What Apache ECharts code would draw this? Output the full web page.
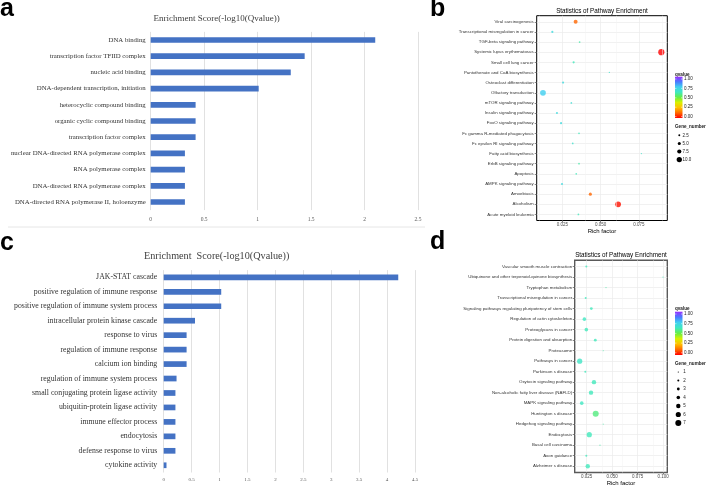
<!DOCTYPE html>
<html><head><meta charset="utf-8">
<script src="https://cdn.jsdelivr.net/npm/echarts@6/dist/echarts.min.js"></script>
<style>html,body{margin:0;padding:0;background:#fff}#c{width:708px;height:487px}</style>
</head><body><div id="c"></div>
<script>
// ---- Panel a ----
const catsA = ['DNA binding','transcription factor TFIID complex','nucleic acid binding','DNA-dependent transcription, initiation','heterocyclic compound binding','organic cyclic compound binding','transcription factor complex','nuclear DNA-directed RNA polymerase complex','RNA polymerase complex','DNA-directed RNA polymerase complex','DNA-directed RNA polymerase II, holoenzyme'];
const valsA = [2.1,1.44,1.31,1.01,0.42,0.42,0.42,0.32,0.32,0.32,0.32];
// ---- Panel c ----
const catsC = ['JAK-STAT cascade','positive regulation of immune response','positive regulation of immune system process','intracellular protein kinase cascade','response to virus','regulation of immune response','calcium ion binding','regulation of immune system process','small conjugating protein ligase activity','ubiquitin-protein ligase activity','immune effector process','endocytosis','defense response to virus','cytokine activity'];
const valsC = [4.2,1.03,1.03,0.56,0.41,0.41,0.41,0.23,0.21,0.21,0.21,0.21,0.21,0.05];
// ---- Panel b ----
const catsB = ['Viral carcinogenesis','Transcriptional misregulation in cancer','TGF-beta signaling pathway','Systemic lupus erythematosus','Small cell lung cancer','Pantothenate and CoA biosynthesis','Osteoclast differentiation','Olfactory transduction','mTOR signaling pathway','Insulin signaling pathway','FoxO signaling pathway','Fc gamma R-mediated phagocytosis','Fc epsilon RI signaling pathway','Fatty acid biosynthesis','ErbB signaling pathway','Apoptosis','AMPK signaling pathway','Amoebiasis','Alcoholism','Acute myeloid leukemia'];
const richB = [0.0337,0.0185,0.0363,0.0896,0.0324,0.0557,0.0255,0.0124,0.0309,0.0215,0.0242,0.0359,0.0318,0.0766,0.0359,0.0341,0.0248,0.0433,0.0614,0.0355];
const genesB = [7,3,2,12,3,1,3,11,2,3,3,2,2,1,2,2,3,5,11,2];
const qB = [0.12,0.7,0.6,0.0,0.62,0.65,0.7,0.75,0.68,0.7,0.7,0.62,0.66,0.65,0.6,0.62,0.7,0.12,0.02,0.62];
// ---- Panel d ----
const catsD = ['Vascular smooth muscle contraction','Ubiquinone and other terpenoid-quinone biosynthesis','Tryptophan metabolism','Transcriptional misregulation in cancer','Signaling pathways regulating pluripotency of stem cells','Regulation of actin cytoskeleton','Proteoglycans in cancer','Protein digestion and absorption','Proteasome','Pathways in cancer','Parkinson s disease','Oxytocin signaling pathway','Non-alcoholic fatty liver disease (NAFLD)','MAPK signaling pathway','Huntington s disease','Hedgehog signaling pathway','Endocytosis','Basal cell carcinoma','Axon guidance','Alzheimer s disease'];
const richD = [0.0246,0.0998,0.0439,0.0240,0.0295,0.0227,0.0246,0.0334,0.0410,0.0181,0.0236,0.0321,0.0292,0.0201,0.0338,0.0410,0.0275,0.0380,0.0246,0.0260];
const genesD = [2,1,1,2,3,4,4,3,1,6,2,5,5,4,7,1,6,1,2,5];
const qD = [0.62,0.62,0.6,0.62,0.62,0.63,0.62,0.62,0.6,0.64,0.62,0.62,0.62,0.63,0.56,0.6,0.62,0.6,0.62,0.62];
// ---- ticks / legends ----
const ticksB = [0.025,0.05,0.075];
const minorB = [0.0125,0.0375,0.0625,0.0875];
const ticksD = [0.025,0.05,0.075,0.1];
const minorD = [0.0375,0.0625,0.0875];
const qTicks = [1,0.75,0.5,0.25,0];
const geneLegB = [2.5,5,7.5,10];
const geneLegD = [1,2,3,4,5,6,7];

const rainbow = ['#ff0000','#ff6a00','#ffbf00','#d8f000','#66ee44','#40e8c0','#40d0f0','#4a7aff','#9a30ff'];
const sizeB = g => 0.8 + 0.45 * g;
const sizeD = g => 1.2 + 0.8 * (g - 1);

const SERIF = 'Liberation Serif';
const SANS = 'Liberation Sans';

const chart = echarts.init(document.getElementById('c'), null, {renderer: 'canvas'});

function idxArr(n){ const a=[]; for(let i=0;i<n;i++) a.push(i); return a; }

function legend(o){
  const els = [];
  els.push({type:'text', x:675, y:o.titleY, style:{text:'qvalue', font:'bold 4.6px '+SANS, fill:'#222', textAlign:'left', textVerticalAlign:'middle'}});
  const stops = rainbow.map((c,i)=>({offset:i/(rainbow.length-1), color:c}));
  els.push({type:'rect', shape:{x:675, y:o.barTop, width:7.5, height:o.barBot-o.barTop},
    style:{fill: new echarts.graphic.LinearGradient(0,1,0,0,stops)}});
  qTicks.forEach((q,i)=>{
    const y = o.qTop + i*o.qStep;
    els.push({type:'line', shape:{x1:675,y1:y,x2:676.5,y2:y}, style:{stroke:'#fff', lineWidth:0.5}});
    els.push({type:'line', shape:{x1:681,y1:y,x2:682.5,y2:y}, style:{stroke:'#fff', lineWidth:0.5}});
    els.push({type:'text', x:684, y:y, style:{text:q.toFixed(2), font:'4.5px '+SANS, fill:'#222', textAlign:'left', textVerticalAlign:'middle'}});
  });
  els.push({type:'text', x:675, y:o.geneTitleY, style:{text:'Gene_number', font:'bold 4.6px '+SANS, fill:'#222', textAlign:'left', textVerticalAlign:'middle'}});
  o.genes.forEach((g,i)=>{
    const y = o.geneY0 + i*o.geneStep;
    els.push({type:'circle', shape:{cx:o.dotX, cy:y, r:o.sizeFn(g)/2}, style:{fill:'#000'}});
    els.push({type:'text', x:o.labX, y:y, style:{text:o.fmt(g), font:'4.5px '+SANS, fill:'#222', textAlign:'left', textVerticalAlign:'middle'}});
  });
  return els;
}

const graphics = [
  {type:'text', x:0, y:9.5, style:{text:'a', font:'bold 25px '+SANS, fill:'#000', textAlign:'left', textVerticalAlign:'middle'}},
  {type:'text', x:430, y:9.5, style:{text:'b', font:'bold 25px '+SANS, fill:'#000', textAlign:'left', textVerticalAlign:'middle'}},
  {type:'text', x:0, y:243, style:{text:'c', font:'bold 25px '+SANS, fill:'#000', textAlign:'left', textVerticalAlign:'middle'}},
  {type:'text', x:430, y:242, style:{text:'d', font:'bold 25px '+SANS, fill:'#000', textAlign:'left', textVerticalAlign:'middle'}},
  {type:'text', x:216.7, y:18.7, style:{text:'Enrichment Score(-log10(Qvalue))', font:'9px '+SERIF, fill:'#404040', textAlign:'center', textVerticalAlign:'middle'}},
  {type:'text', x:216.7, y:256, style:{text:'Enrichment  Score(-log10(Qvalue))', font:'10.2px '+SERIF, fill:'#404040', textAlign:'center', textVerticalAlign:'middle'}},
  {type:'text', x:602, y:11, style:{text:'Statistics of Pathway Enrichment', font:'6.3px '+SANS, fill:'#000', textAlign:'center', textVerticalAlign:'middle'}},
  {type:'text', x:621, y:255, style:{text:'Statistics of Pathway Enrichment', font:'6.3px '+SANS, fill:'#000', textAlign:'center', textVerticalAlign:'middle'}},
  {type:'line', shape:{x1:8,y1:227,x2:425,y2:227}, style:{stroke:'#e0e0e0', lineWidth:0.8}}
].concat(
  legend({titleY:74.3, barTop:76.7, barBot:118, qTop:79, qStep:9.4, geneTitleY:126.7, geneY0:135.3, geneStep:8.1, genes:geneLegB, sizeFn:sizeB, dotX:679.3, labX:682.5, fmt:g=>g.toFixed(1)}),
  legend({titleY:308.3, barTop:311.7, barBot:355, qTop:314, qStep:9.7, geneTitleY:363.3, geneY0:372, geneStep:8.5, genes:geneLegD, sizeFn:sizeD, dotX:678.3, labX:683.3, fmt:g=>String(g)})
);

const ggGrid = '#ebebeb';
const ggMinor = '#f3f3f3';

function minorLines(vals){
  return {silent:true, symbol:'none', label:{show:false}, animation:false,
    lineStyle:{color:ggMinor, width:0.5, type:'solid'},
    data: vals.map(v=>({xAxis:v}))};
}

const option = {
  animation: false,
  backgroundColor: '#fff',
  grid: [
    {left:150.7, top:31.9, width:267.3, height:178.2},
    {left:163.7, top:270.1, width:251.3, height:202.4},
    {left:536.7, top:15.7, width:130.6, height:204.8, show:true, borderColor:'#000', borderWidth:1, backgroundColor:'#fff'},
    {left:574.7, top:260.3, width:92.6, height:214.1, show:true, borderColor:'#5a5a5a', borderWidth:1.4, backgroundColor:'#fff'}
  ],
  xAxis: [
    {type:'value', gridIndex:0, min:0, max:2.5, interval:0.5, axisLine:{show:false}, axisTick:{show:false},
      axisLabel:{fontFamily:SERIF, fontSize:5.5, color:'#595959', margin:6}, splitLine:{lineStyle:{color:'#d9d9d9', width:0.8}}},
    {type:'value', gridIndex:1, min:0, max:4.5, interval:0.5, axisLine:{show:false}, axisTick:{show:false},
      axisLabel:{fontFamily:SERIF, fontSize:5, color:'#595959', margin:5}, splitLine:{lineStyle:{color:'#d9d9d9', width:0.8}}},
    {type:'value', gridIndex:2, position:'bottom', min:0.0083, max:0.0935, axisLine:{show:false, onZero:false},
      axisTick:{show:true, customValues:ticksB, length:2, lineStyle:{color:'#333', width:0.6}},
      axisLabel:{customValues:ticksB, formatter:v=>v.toFixed(3), fontFamily:SANS, fontSize:4.5, color:'#4d4d4d', margin:1.5},
      splitLine:{show:true, lineStyle:{color:ggGrid, width:0.7}},
      name:'Rich factor', nameLocation:'middle', nameGap:7, nameTextStyle:{fontFamily:SANS, fontSize:6, color:'#000'}},
    {type:'value', gridIndex:3, position:'bottom', min:0.0132, max:0.104, axisLine:{show:false, onZero:false},
      axisTick:{show:true, customValues:ticksD, length:2, lineStyle:{color:'#333', width:0.6}},
      axisLabel:{customValues:ticksD, formatter:v=>v.toFixed(3), fontFamily:SANS, fontSize:4.5, color:'#4d4d4d', margin:1.5},
      splitLine:{show:true, lineStyle:{color:ggGrid, width:0.7}},
      name:'Rich factor', nameLocation:'middle', nameGap:7.5, nameTextStyle:{fontFamily:SANS, fontSize:6, color:'#000'}}
  ],
  yAxis: [
    {type:'category', gridIndex:0, data:catsA, inverse:true, axisLine:{show:false}, axisTick:{show:false},
      axisLabel:{fontFamily:SERIF, fontSize:6.8, color:'#333', margin:5}},
    {type:'category', gridIndex:1, data:catsC, inverse:true, axisLine:{show:false}, axisTick:{show:false},
      axisLabel:{fontFamily:SERIF, fontSize:7.8, color:'#333', margin:6.5}},
    {type:'value', gridIndex:2, position:'left', min:-0.6, max:catsB.length-0.4, inverse:true, axisLine:{show:false, onZero:false},
      axisTick:{show:true, customValues:idxArr(catsB.length), length:2, lineStyle:{color:'#333', width:0.6}},
      axisLabel:{customValues:idxArr(catsB.length), formatter:v=>catsB[Math.round(v)], fontFamily:SANS, fontSize:4.4, color:'#333', margin:3},
      splitLine:{show:true, lineStyle:{color:ggGrid, width:0.7}}},
    {type:'value', gridIndex:3, position:'left', min:-0.6, max:catsD.length-0.4, inverse:true, axisLine:{show:false, onZero:false},
      axisTick:{show:true, customValues:idxArr(catsD.length), length:2, lineStyle:{color:'#333', width:0.6}},
      axisLabel:{customValues:idxArr(catsD.length), formatter:v=>catsD[Math.round(v)], fontFamily:SANS, fontSize:4.4, color:'#333', margin:2.5},
      splitLine:{show:true, lineStyle:{color:ggGrid, width:0.7}}}
  ],
  visualMap: [
    {type:'continuous', show:false, seriesIndex:4, dimension:3, min:0, max:1, inRange:{color:rainbow}},
    {type:'continuous', show:false, seriesIndex:5, dimension:3, min:0, max:1, inRange:{color:rainbow}}
  ],
  series: [
    {type:'bar', xAxisIndex:0, yAxisIndex:0, data:valsA, barWidth:5.7, itemStyle:{color:'#4472C4'}},
    {type:'bar', xAxisIndex:1, yAxisIndex:1, data:valsC, barWidth:5.7, itemStyle:{color:'#4472C4'}},
    {type:'line', xAxisIndex:2, yAxisIndex:2, data:[], z:1, markLine:minorLines(minorB)},
    {type:'line', xAxisIndex:3, yAxisIndex:3, data:[], z:1, markLine:minorLines(minorD)},
    {type:'scatter', xAxisIndex:2, yAxisIndex:2, z:3,
      data: catsB.map((c,i)=>[richB[i], i, genesB[i], qB[i]]),
      symbolSize: d => sizeB(d[2])},
    {type:'scatter', xAxisIndex:3, yAxisIndex:3, z:3,
      data: catsD.map((c,i)=>[richD[i], i, genesD[i], qD[i]]),
      symbolSize: d => sizeD(d[2])}
  ],
  graphic: {elements: graphics}
};
chart.setOption(option);
</script>
</body></html>
